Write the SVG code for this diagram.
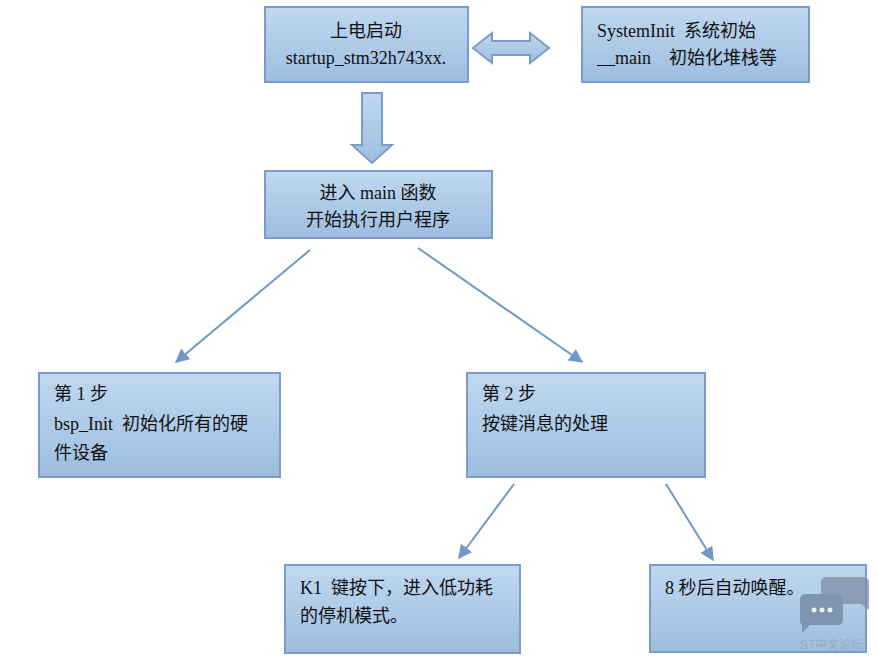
<svg xmlns="http://www.w3.org/2000/svg" width="878" height="660" viewBox="0 0 878 660">
<style>
.b{fill:url(#g);stroke:#7a9cc6;stroke-width:2}
.t{font-family:"Liberation Serif","Noto Sans CJK SC",serif;font-size:18px;fill:#111;white-space:pre}
.c{stroke:#7098c4;stroke-width:2;fill:none;marker-end:url(#m)}
.ba{fill:url(#g);stroke:#7a9cc6;stroke-width:2}
</style>
<defs>
<linearGradient id="g" x1="0" y1="0" x2="0" y2="1"><stop offset="0" stop-color="#c0d8f0"/><stop offset="1" stop-color="#9dbde0"/></linearGradient>
<marker id="m" viewBox="0 0 10 10" refX="9" refY="5" markerWidth="7" markerHeight="7" orient="auto"><path d="M0,0 L10,5 L0,10 z" fill="#7098c4"/></marker>
</defs>
<rect width="878" height="660" fill="#fff"/>
<g id="n1"><rect class="b" x="265" y="7" width="203" height="75"/><text class="t" x="366" y="37" text-anchor="middle">上电启动</text><text class="t" x="366" y="64" text-anchor="middle">startup_stm32h743xx.</text></g>
<g id="n2"><rect class="b" x="582" y="7" width="227" height="75"/><text class="t" x="597" y="37" xml:space="preserve">SystemInit  系统初始</text><text class="t" x="597" y="64" xml:space="preserve">__main    初始化堆栈等</text></g>
<g id="n3"><rect class="b" x="265" y="171" width="227" height="67"/><text class="t" x="378" y="199" text-anchor="middle">进入 main 函数</text><text class="t" x="378" y="226" text-anchor="middle">开始执行用户程序</text></g>
<g id="n4"><rect class="b" x="39" y="373" width="241" height="104"/><text class="t" x="54" y="400">第 1 步</text><text class="t" x="54" y="430" xml:space="preserve">bsp_Init  初始化所有的硬</text><text class="t" x="54" y="459">件设备</text></g>
<g id="n5"><rect class="b" x="467" y="373" width="238" height="104"/><text class="t" x="482" y="400">第 2 步</text><text class="t" x="482" y="430">按键消息的处理</text></g>
<g id="n6"><rect class="b" x="285" y="565" width="235" height="88"/><text class="t" x="300" y="594" xml:space="preserve">K1  键按下，进入低功耗</text><text class="t" x="300" y="622">的停机模式。</text></g>
<g id="n7"><rect class="b" x="650" y="565" width="216" height="87"/><text class="t" x="665" y="594">8 秒后自动唤醒。</text></g>
<g id="connectors">
<path class="ba" d="M473,48 L492,33 L492,41 L530,41 L530,33 L549,48 L530,63 L530,55 L492,55 L492,63 Z"/>
<path class="ba" d="M362,93 L382,93 L382,145 L392,145 L372,163 L352,145 L362,145 Z"/>
<line class="c" x1="310" y1="250" x2="176" y2="362"/>
<line class="c" x1="418" y1="248" x2="582" y2="362"/>
<line class="c" x1="514" y1="484" x2="459" y2="558"/>
<line class="c" x1="666" y1="484" x2="713" y2="560"/>
</g>
<g id="watermark" opacity="0.75">
<path d="M826,577 h38 a5,5 0 0 1 5,5 v28 l-8,-6 h-35 a5,5 0 0 1 -5,-5 v-17 a5,5 0 0 1 5,-5z" fill="#7d8ea3"/>
<path d="M805,594 h33 a5,5 0 0 1 5,5 v21 a5,5 0 0 1 -5,5 h-28 l-8,8 v-8 a5,5 0 0 1 -2,-4 v-22 a5,5 0 0 1 5,-5z" fill="#6e84a0"/>
<circle cx="814" cy="610" r="2.5" fill="#fff"/><circle cx="822" cy="610" r="2.5" fill="#fff"/><circle cx="830" cy="610" r="2.5" fill="#fff"/>
<text x="800" y="649" font-family="Liberation Sans,'Noto Sans CJK SC',sans-serif" font-size="12" fill="#9aa6b6">ST中文论坛</text>
</g>
</svg>
